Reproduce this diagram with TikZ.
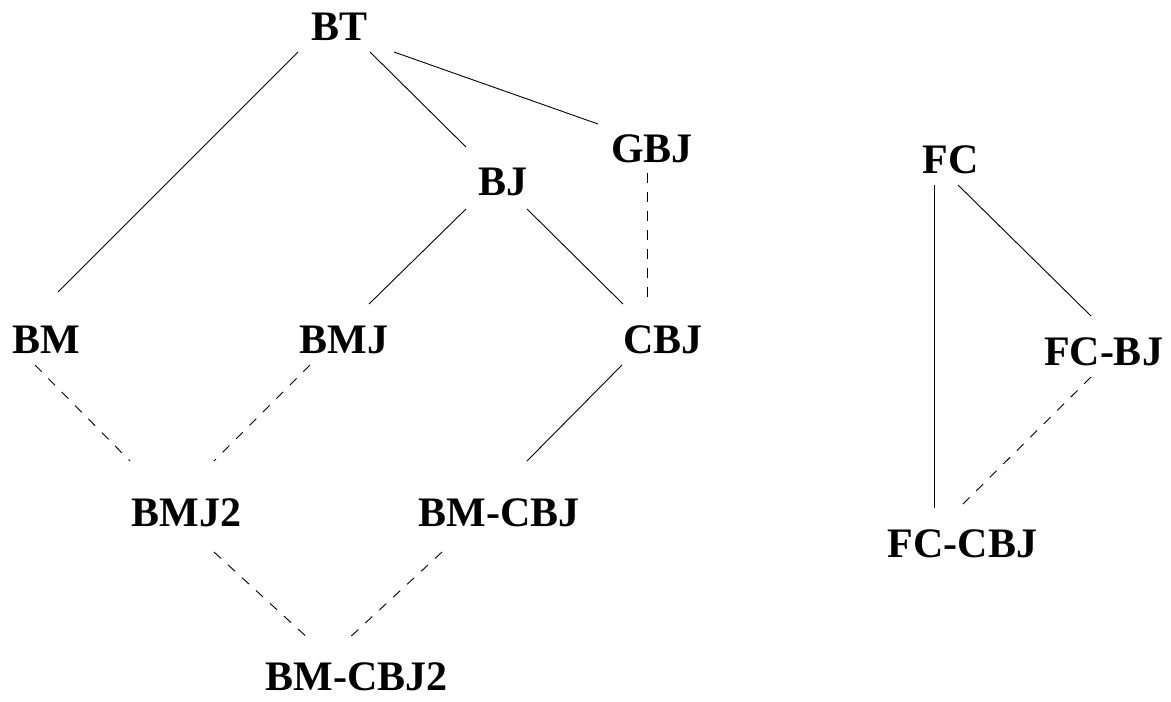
\documentclass[tikz,border=0pt]{standalone}
\usepackage{fontspec}
\setmainfont{Liberation Serif}
\usetikzlibrary{calc}
\begin{document}
\begin{tikzpicture}[x=1pt,y=-1pt,
  lbl/.style={anchor=base, inner sep=0pt, font=\fontsize{42}{50}\selectfont\bfseries},
  link/.style={line width=0.9pt},
  weaklink/.style={link, dash pattern=on 9.5pt off 9.5pt}]
\useasboundingbox (0,0) rectangle (1171,702);

% hierarchy on the left
\node[lbl] (BT)     at (339.5,40)  {BT};
\node[lbl] (GBJ)    at (652,162)   {GBJ};
\node[lbl] (BJ)     at (503,195)   {BJ};
\node[lbl] (BM)     at (46,353)    {BM};
\node[lbl] (BMJ)    at (344,353)   {BMJ};
\node[lbl] (CBJ)    at (663,353)   {CBJ};
\node[lbl] (BMJ2)   at (186.5,526) {BMJ2};
\node[lbl] (BMCBJ)  at (499,526)   {BM-CBJ};
\node[lbl] (BMCBJ2) at (356.5,690) {BM-CBJ2};

% forward-checking family on the right
\node[lbl] (FC)     at (950.5,173) {FC};
\node[lbl] (FCBJ)   at (1103.5,365){FC-BJ};
\node[lbl] (FCCBJ)  at (962.5,557) {FC-CBJ};

% solid links
\draw[link] ($(BT.base)+(-41.5,12)$) -- ($(BM.base)+(12,-61)$);
\draw[link] ($(BT.base)+(30.5,12)$)  -- ($(BJ.base)+(-37,-48)$);
\draw[link] ($(BT.base)+(54.5,12)$)  -- ($(GBJ.base)+(-54,-38)$);
\draw[link] ($(BJ.base)+(-37,14)$)   -- ($(BMJ.base)+(25,-49)$);
\draw[link] ($(BJ.base)+(24,14)$)    -- ($(CBJ.base)+(-40,-49)$);
\draw[link] ($(CBJ.base)+(-41,12)$)  -- ($(BMCBJ.base)+(28,-65)$);
\draw[link] ($(FC.base)+(-16.5,12)$) -- ($(FCCBJ.base)+(-28.5,-49)$);
\draw[link] ($(FC.base)+(7.5,12)$)   -- ($(FCBJ.base)+(-12.5,-49)$);

% dashed links
\draw[weaklink] ($(GBJ.base)+(-5,11)$)     -- ($(CBJ.base)+(-16,-56)$);
\draw[weaklink] ($(BM.base)+(-11,12)$)     -- ($(BMJ2.base)+(-56.5,-65)$);
\draw[weaklink] ($(BMJ.base)+(-34,12)$)    -- ($(BMJ2.base)+(27.5,-65)$);
\draw[weaklink] ($(BMJ2.base)+(27.5,26)$)  -- ($(BMCBJ2.base)+(-46.5,-50)$);
\draw[weaklink] ($(BMCBJ.base)+(-57,26)$)  -- ($(BMCBJ2.base)+(-9.5,-50)$);
\draw[weaklink] ($(FCBJ.base)+(-12.5,12)$) -- ($(FCCBJ.base)+(-0.5,-52)$);
\end{tikzpicture}
\end{document}
